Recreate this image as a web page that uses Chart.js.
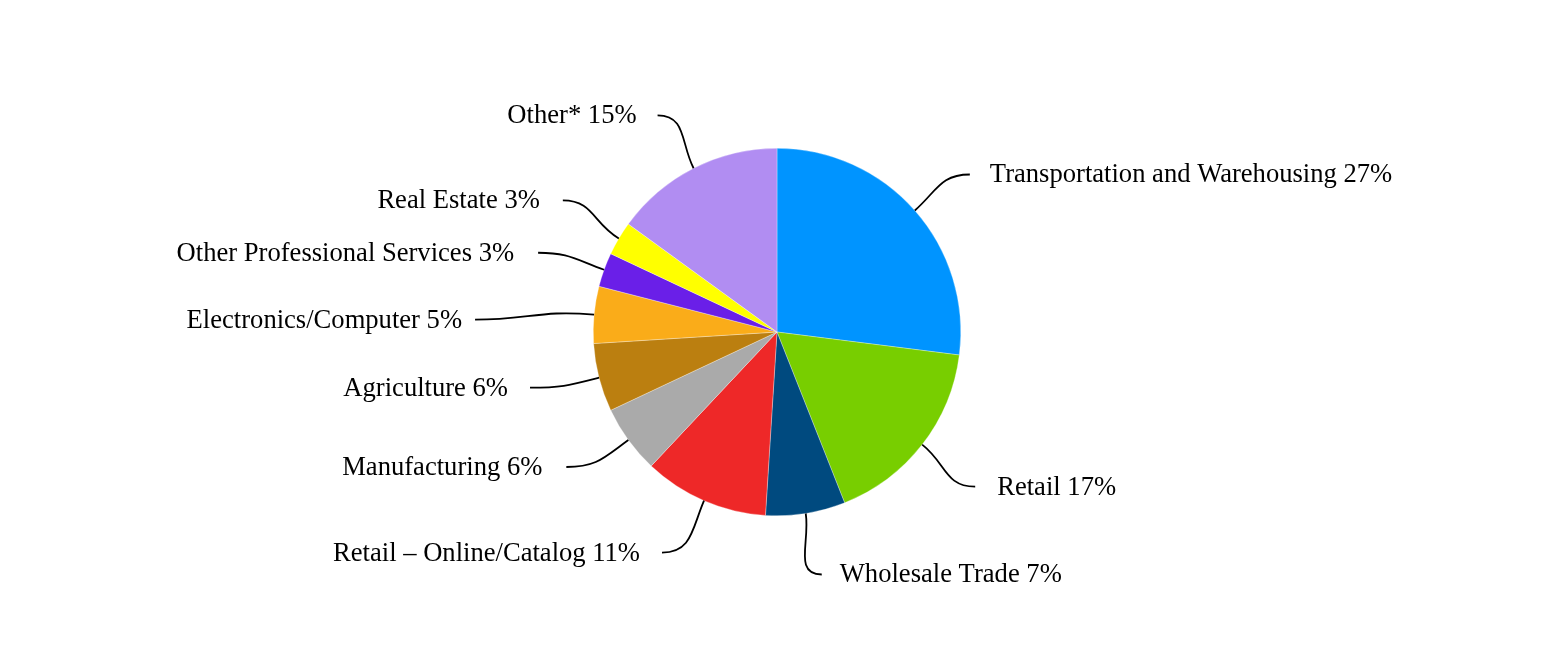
<!DOCTYPE html>
<html>
<head>
<meta charset="utf-8">
<script src="https://cdn.jsdelivr.net/npm/chart.js@4/dist/chart.umd.min.js"></script>
<style>
  html, body { margin: 0; padding: 0; background: #fff; }
  #wrap { width: 1554px; height: 666px; }
</style>
</head>
<body>
<div id="wrap"><canvas id="myChart"></canvas></div>
<script>
// segment data, clockwise from 12 o'clock
const categories = ['Transportation and Warehousing', 'Retail', 'Wholesale Trade', 'Retail \u2013 Online/Catalog',
    'Manufacturing', 'Agriculture', 'Electronics/Computer', 'Other Professional Services', 'Real Estate', 'Other*'];
const shares = [27, 17, 7, 11, 6, 6, 5, 3, 3, 15];
const colors = ['#0094ff', '#78ce00', '#004a7f', '#ee2828', '#aaaaaa', '#bb7f10', '#faac19', '#6a1fe8', '#ffff00', '#b18df2'];

// where each leader line ends, relative to the point on the slice edge, and the gap to its text
const leaderEnds = [[55, -36], [53, 42], [16, 61], [-42, 52], [-62, 27], [-69, 10], [-119, 5], [-66, -17], [-56, -38], [-36, -53]];
const textGaps = [20, 22, 18, 22, 24, 22, 13, 24, 23, 21];

const leaderLabels = {
    id: 'leaderLabels',
    afterDatasetsDraw(chart) {
        const ctx = chart.ctx;
        const meta = chart.getDatasetMeta(0);
        ctx.save();
        ctx.font = '26.6px "Liberation Serif", "Times New Roman", serif';
        ctx.fillStyle = '#000';
        ctx.strokeStyle = '#000';
        ctx.lineWidth = 1.8;
        ctx.textBaseline = 'middle';
        meta.data.forEach((arc, i) => {
            const mid = (arc.startAngle + arc.endAngle) / 2;
            const dx = Math.cos(mid), dy = Math.sin(mid);
            const r = arc.outerRadius;
            const x0 = arc.x + dx * r, y0 = arc.y + dy * r;
            const ex = x0 + leaderEnds[i][0], ey = y0 + leaderEnds[i][1];
            const side = ex > arc.x ? 1 : -1;
            const reach = Math.hypot(leaderEnds[i][0], leaderEnds[i][1]);
            ctx.beginPath();
            ctx.moveTo(x0, y0);
            ctx.bezierCurveTo(x0 + dx * reach * 0.45, y0 + dy * reach * 0.45,
                ex - side * reach * 0.45, ey, ex, ey);
            ctx.stroke();
            ctx.textAlign = side > 0 ? 'left' : 'right';
            ctx.fillText(categories[i] + ' ' + shares[i] + '%', ex + side * textGaps[i], ey + 1);
        });
        ctx.restore();
    }
};

function createChart() {
    const ctx = document.getElementById('myChart');
    new Chart(ctx, {
        type: 'pie',
        data: {
            labels: categories,
            datasets: [{
                data: shares,
                backgroundColor: colors,
                borderColor: 'rgba(255,255,255,0.6)',
                borderWidth: 0.5
            }]
        },
        options: {
            responsive: true,
            maintainAspectRatio: false,
            animation: false,
            layout: { padding: { top: 148, bottom: 150, left: 0, right: 0 } },
            plugins: {
                legend: { display: false },
                tooltip: { enabled: false }
            }
        },
        plugins: [leaderLabels]
    });
}

createChart();
</script>
</body>
</html>
